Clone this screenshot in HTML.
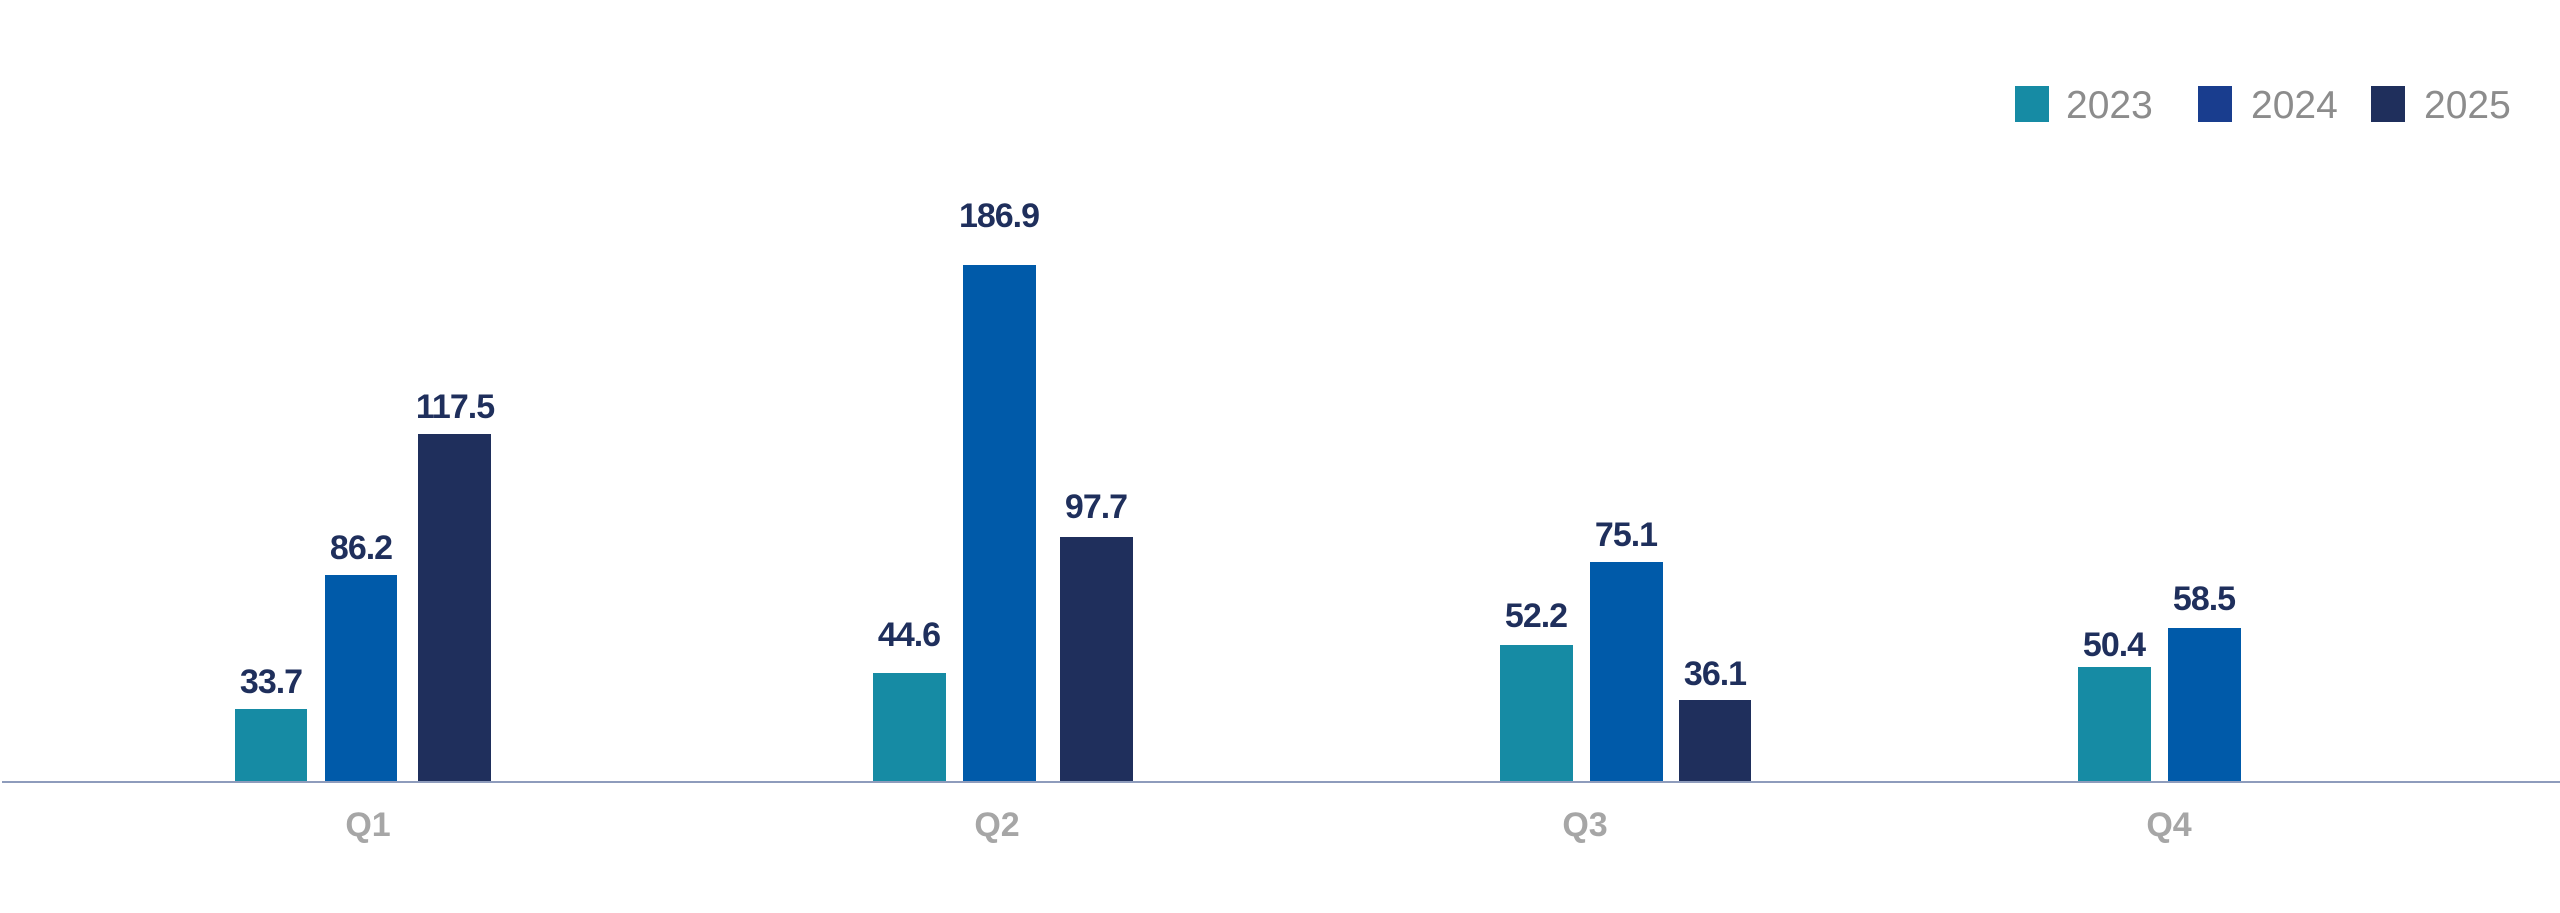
<!DOCTYPE html>
<html><head><meta charset="utf-8"><style>
html,body{margin:0;padding:0;background:#fff;}
svg{display:block}
.v{font-family:"Liberation Sans",sans-serif;font-weight:bold;font-size:34px;fill:#1f2f5c;text-anchor:middle;letter-spacing:-1px}
.q{font-family:"Liberation Sans",sans-serif;font-weight:bold;font-size:34px;fill:#a6a6a6;text-anchor:middle}
.l{font-family:"Liberation Sans",sans-serif;font-size:39px;fill:#8c8c8c}
</style></head><body>
<svg width="2560" height="913" viewBox="0 0 2560 913">
<rect x="2015" y="86" width="34" height="36" fill="#168ba4"/>
<text class="l" x="2066" y="118">2023</text>
<rect x="2198" y="86" width="34" height="36" fill="#193d8e"/>
<text class="l" x="2251" y="118">2024</text>
<rect x="2371" y="86" width="34" height="36" fill="#1f2f5c"/>
<text class="l" x="2424" y="118">2025</text>

<rect x="235" y="709" width="72" height="73" fill="#168ba4"/>
<rect x="325" y="575" width="72" height="207" fill="#005aa9"/>
<rect x="418" y="434" width="73" height="348" fill="#1f2f5c"/>
<text class="v" x="271" y="693">33.7</text>
<text class="v" x="361" y="559">86.2</text>
<text class="v" x="455" y="418">117.5</text>

<rect x="873" y="673" width="73" height="109" fill="#168ba4"/>
<rect x="963" y="265" width="73" height="517" fill="#005aa9"/>
<rect x="1060" y="537" width="73" height="245" fill="#1f2f5c"/>
<text class="v" x="909" y="646">44.6</text>
<text class="v" x="999" y="227">186.9</text>
<text class="v" x="1096" y="518">97.7</text>

<rect x="1500" y="645" width="73" height="137" fill="#168ba4"/>
<rect x="1590" y="562" width="73" height="220" fill="#005aa9"/>
<rect x="1679" y="700" width="72" height="82" fill="#1f2f5c"/>
<text class="v" x="1536" y="627">52.2</text>
<text class="v" x="1626" y="546">75.1</text>
<text class="v" x="1715" y="685">36.1</text>

<rect x="2078" y="667" width="73" height="115" fill="#168ba4"/>
<rect x="2168" y="628" width="73" height="154" fill="#005aa9"/>
<text class="v" x="2114" y="656">50.4</text>
<text class="v" x="2204" y="610">58.5</text>

<rect x="2" y="781" width="2558" height="2" fill="#8e9cbc"/>
<text class="q" x="368" y="836">Q1</text>
<text class="q" x="997" y="836">Q2</text>
<text class="q" x="1585" y="836">Q3</text>
<text class="q" x="2169" y="836">Q4</text>
</svg>
</body></html>
